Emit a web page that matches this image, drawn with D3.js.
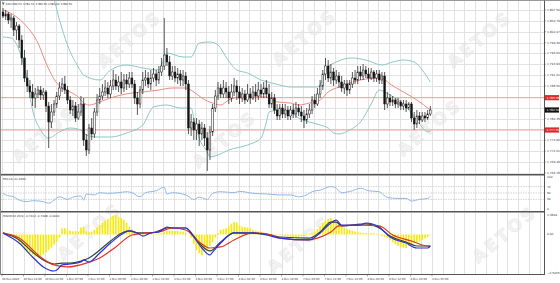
<!DOCTYPE html>
<html><head><meta charset="utf-8">
<script src="https://cdn.jsdelivr.net/npm/d3@7"></script>
<style>html,body{margin:0;padding:0;background:#fff;overflow:hidden}text{font-family:"DejaVu Sans",Arial,sans-serif}</style>
</head><body><svg id="c" width="560" height="283"></svg>
<script>
// ---------- DATA (XAUUSD H1) ----------
const openP=[1807,1806,1806.5,1805,1805.5,1802.5,1803.5,1800,1795.5,1790.5,
1788.5,1787,1785.5,1786.5,1787.5,1786.25,1787,1783.5,1779.5,1782,
1784,1786,1788,1789,1787.5,1785,1782.5,1783.5,1780.5,1782,
1784,1775,1772.5,1778,1776.5,1782,1785,1786,1787,1788,
1786.5,1788.5,1790,1788.5,1789.5,1788,1790,1789,1790.5,1789,
1785.5,1784,1787.5,1790,1790.5,1789,1790.5,1791.5,1790,1792,
1793.5,1796.25,1794.5,1791,1792,1790.5,1791.5,1790,1791,1789,
1778,1779.5,1777.5,1779,1776.5,1778,1775.5,1772.5,1777,1783,
1786,1788,1786.5,1788,1787,1785.5,1787,1788.5,1787,1785.5,
1786.5,1785,1786.5,1785.5,1787,1786,1787.5,1786.5,1788,1786.5,
1784,1785.5,1782.5,1781,1783,1781.5,1782.5,1781,1782.5,1781.5,
1783,1782,1781,1780,1781.5,1782.5,1785,1784,1786.5,1788.5,
1791.5,1793.5,1790.5,1792,1790,1791,1789.5,1788,1789,1787.5,
1789,1790.5,1790,1792,1791,1792.5,1791.5,1790.5,1792,1790.5,
1791.5,1790,1791,1784,1785.5,1784.5,1785,1784,1784.5,1783.5,
1784,1783,1784,1780.5,1779,1781,1780,1781,1780.5,1781.5];
const highP=[1808,1807.5,1807,1806.5,1806,1804.5,1804,1801.25,1797.5,1792.5,
1790,1789,1788,1788.5,1788.5,1788,1787.5,1784.5,1784,1785,
1787,1789.5,1790.5,1791,1788.5,1786,1785,1784.5,1784,1786,
1785.5,1776.5,1779,1780.5,1783,1786.5,1788,1789,1790,1789.5,
1790,1792.5,1791.5,1791,1792,1791.5,1791.5,1792,1792,1790,
1787,1788.5,1792,1792.5,1792,1792.5,1793,1792.5,1793.5,1795.5,
1805.5,1798,1796,1793.5,1793.5,1793,1792.5,1792.5,1792,1790,
1781.5,1780.5,1780.5,1780,1779.5,1779,1777,1778.5,1784,1787.5,
1789.5,1789,1790,1789.5,1788.5,1789,1790.5,1790,1788.5,1788,
1787.5,1789,1788,1788.5,1789,1789.5,1789,1789.5,1790,1789,
1787,1786.5,1784,1784,1784,1784,1783.5,1783.5,1784,1784.5,
1784,1783.5,1782.5,1783,1784,1786,1786.5,1788,1790,1792.5,
1795.5,1795,1794,1793,1792.5,1792,1791,1790,1790,1790,
1792,1792.5,1793.5,1793.5,1794,1793.5,1793,1793,1792.5,1792.5,
1792.5,1792,1792,1787,1786.5,1786,1785.5,1785.5,1785,1785,
1785,1784.5,1784.5,1782,1782.5,1782,1782,1782,1782.5,1783.5];
const lowP=[1805.5,1805,1804,1803,1801,1800,1798,1793.75,1789.5,1787,
1785.5,1783.5,1783,1785.5,1785,1785,1782,1773,1778,1781,
1783,1785,1787,1786.5,1784,1781.5,1781,1779.5,1780,1781,
1773.5,1771,1771.5,1775,1775.5,1781,1784,1785,1786,1785.5,
1785.5,1787.5,1787.5,1787,1786.5,1787,1787.5,1788,1788,1784,
1781.25,1783,1786.5,1788.5,1788,1787.5,1789.5,1788.5,1789,1791,
1792.5,1793.5,1790,1790,1789.5,1789,1788.5,1788.5,1787.5,1776.5,
1776,1775,1775,1773.5,1775,1773.5,1767.25,1770,1776,1782,
1785,1785.5,1785.5,1785.5,1784,1784.5,1786,1785,1784,1784.5,
1784,1784.5,1784,1785,1784.5,1785,1785.5,1785.5,1785.5,1783,
1783,1781.5,1780,1780,1780.5,1780.5,1780,1780,1780.5,1780.5,
1781,1779.5,1778,1779,1780.5,1781.5,1783,1783.5,1785.5,1787.5,
1790,1789.5,1789,1788.5,1789,1788,1787,1786.5,1786,1786.5,
1788,1789,1789,1790,1790,1790.5,1789.5,1790,1789.5,1789.5,
1789,1789,1782.5,1783,1783.5,1783.5,1783,1783,1782.5,1782.5,
1782,1782.5,1779.5,1777.5,1778,1779,1779.5,1779.5,1780,1781];
const closeP=[1806,1806.5,1805,1805.5,1802.5,1803.5,1800,1795.5,1790.5,1788.5,
1787,1785.5,1786.5,1787.5,1786.25,1787,1783.5,1779.5,1782,1784,
1786,1788,1789,1787.5,1785,1782.5,1783.5,1780.5,1782,1784,
1775,1772.5,1778,1776.5,1782,1785,1786,1787,1788,1786.5,
1788.5,1790,1788.5,1789.5,1788,1790,1789,1790.5,1789,1785.5,
1784,1787.5,1790,1790.5,1789,1790.5,1791.5,1790,1792,1793.5,
1796.25,1794.5,1791,1792,1790.5,1791.5,1790,1791,1789,1778,
1779.5,1777.5,1779,1776.5,1778,1775.5,1772.5,1777,1783,1786,
1788,1786.5,1788,1787,1785.5,1787,1788.5,1787,1785.5,1786.5,
1785,1786.5,1785.5,1787,1786,1787.5,1786.5,1788,1786.5,1784,
1785.5,1782.5,1781,1783,1781.5,1782.5,1781,1782.5,1781.5,1783,
1782,1781,1780,1781.5,1782.5,1785,1784,1786.5,1788.5,1791.5,
1793.5,1790.5,1792,1790,1791,1789.5,1788,1789,1787.5,1789,
1790.5,1790,1792,1791,1792.5,1791.5,1790.5,1792,1790.5,1791.5,
1790,1791,1784,1785.5,1784.5,1785,1784,1784.5,1783.5,1784,
1783,1784,1780.5,1779,1781,1780,1781,1780.5,1781.5,1782.5];

// Bollinger bands and moving average, read at [bar index, price]
const bandUpper=[[0,1825],[6,1820],[14,1813.75],[19,1810],[21,1805],[24,1798.75],[28,1793.25],[30,1791.25],[36,1790],[40,1792.5],[46,1793.75],[52,1793],[58,1792.5],[61,1796.75],[67,1795.75],[70,1795.75],[73,1799.25],[77,1799.5],[80,1798.75],[83,1795.75],[87,1792.5],[91,1791.75],[96,1790],[100,1789.25],[103,1788.75],[107,1788.25],[112,1788.25],[117,1788.25],[121,1793.25],[124,1794.5],[130,1795.5],[135,1795],[141,1793.75],[145,1794.5],[149,1795],[153,1794.5],[156,1792.5],[159,1789.5]];
const bandLower=[[0,1800.75],[3,1800.5],[6,1797.5],[9,1790],[11,1782.5],[14,1777.5],[17,1775.5],[21,1777],[25,1778],[29,1777.5],[31,1776.25],[35,1775.75],[40,1775.75],[46,1776.75],[52,1778.75],[56,1783.25],[61,1783.75],[66,1783],[70,1783],[71,1780.5],[73,1775.5],[76,1772],[77,1770.75],[80,1771.25],[84,1772.5],[91,1773.75],[96,1775.5],[98,1779.5],[99,1782],[103,1782.5],[107,1782],[110,1780.5],[114,1779.5],[118,1778.75],[121,1778],[123,1776.75],[125,1776.5],[129,1777.5],[133,1779.5],[137,1784],[140,1787.5],[144,1786.25],[148,1784.5],[151,1782.5],[155,1779],[158,1777],[159,1777.25]];
const maLine=[[0,1807.5],[4,1806.25],[9,1803.25],[13,1799.25],[16,1794.25],[20,1789.25],[22,1788],[25,1787],[28,1785.75],[30,1784.25],[32,1783.75],[36,1784.5],[40,1785.5],[44,1786.25],[48,1786.75],[52,1787],[58,1787.5],[63,1788],[68,1788],[71,1787],[74,1785.5],[78,1784.25],[81,1783.75],[84,1785],[89,1785.75],[95,1785.75],[98,1785.75],[102,1784.5],[107,1784.25],[110,1783.75],[114,1784.25],[118,1785],[121,1787],[125,1788.25],[130,1789.5],[135,1790.25],[141,1790.5],[144,1789],[149,1787],[154,1785],[159,1782.5]];
const levelLines=[1785.58,1777.50];
const lastPrice=1782.50;
const priceTicks=[1807.50,1804.79,1802.07,1799.36,1796.64,1793.93,1791.21,1788.50,1785.78,1783.07,1780.35,1777.64,1774.92,1772.21,1769.49,1766.78];

// RSI(14) read at [bar index, value]
const rsi=[[0,49],[1,44],[4,38],[6,28],[9,23],[11,26],[15,23],[17,18],[21,38],[24,30],[26,37],[29,41],[30,28],[31,47],[34,44],[36,51],[39,49],[43,51],[46,54],[48,51],[51,38],[53,51],[57,57],[60,68],[61,47],[63,51],[68,44],[71,30],[73,37],[76,30],[78,49],[81,54],[86,51],[88,55],[93,49],[98,47],[103,44],[107,44],[110,38],[113,44],[115,54],[118,59],[122,70],[124,65],[126,51],[130,57],[133,65],[136,57],[140,54],[143,36],[147,33],[150,33],[152,25],[155,30],[158,33],[159,40]];
const rsiLevels=[70,50,30];

// MACD(12,26,9): histogram per bar, lines at [bar index, value]
const macdHist=[0,-0.03,-0.06,-0.1,-0.18,-0.3,-0.5,-0.75,-0.95,-1.1,
-1.2,-1.3,-1.42,-1.45,-1.4,-1.3,-1.15,-1.0,-0.85,-0.65,
-0.45,-0.2,0.4,0.42,0.3,0.25,0.2,0.22,0.18,0.45,
0.5,0.2,0.15,0.18,0.3,0.45,0.6,0.75,0.9,1.0,
1.1,1.2,1.26,1.15,1.05,0.95,0.75,0.5,0.35,0.2,
0.12,0.05,-0.05,0.03,0.04,-0.03,0.02,0.05,0.06,0.1,
0.15,0.22,0.25,0.24,0.23,0.22,0.2,0.18,0.1,0.02,
-0.2,-0.6,-1.0,-1.2,-1.35,-1.1,-0.9,-0.75,-0.5,-0.2,
0.1,0.3,0.35,0.4,0.55,0.7,0.8,0.78,0.6,0.5,
0.48,0.45,0.4,0.3,0.22,0.2,0.18,0.12,0.08,0.05,
0.03,0.01,-0.02,-0.04,-0.06,-0.1,-0.12,-0.14,-0.16,-0.15,
-0.14,-0.12,-0.1,0.05,0.08,0.1,0.2,0.35,0.55,0.75,
0.9,1.0,1.06,0.95,0.8,0.65,0.55,0.45,0.35,0.3,
0.25,0.2,0.15,0.12,0.1,0.1,0.08,0.1,0.08,0.05,
-0.05,-0.1,-0.15,-0.2,-0.35,-0.5,-0.62,-0.72,-0.8,-0.85,
-0.87,-0.75,-0.62,-0.55,-0.5,-0.45,-0.35,-0.25,-0.15,-0.05];
const macdMain=[[0,0.08],[6,-0.55],[11,-1.45],[15,-2.09],[19,-2.35],[20,-2.29],[22,-1.96],[25,-1.9],[29,-1.77],[30,-1.64],[32,-1.77],[36,-1.19],[40,-0.55],[45,0.1],[47,0.23],[50,0.1],[52,-0.1],[55,0.1],[58,0.16],[61,0.48],[63,0.42],[68,0.42],[71,-0.16],[74,-0.87],[77,-1.32],[78,-1.13],[81,-0.55],[86,0.1],[93,0.1],[98,-0.03],[103,-0.23],[114,-0.35],[118,0.1],[122,0.74],[124,0.93],[126,0.61],[133,0.61],[135,0.74],[140,0.48],[144,-0.16],[150,-0.55],[154,-0.87],[158,-0.87],[159,-0.74]];
const macdFast=[[0,0.1],[6,-0.35],[11,-1.13],[15,-1.64],[19,-1.9],[22,-1.84],[25,-1.84],[29,-1.71],[32,-1.51],[36,-1.0],[40,-0.42],[45,0.16],[47,0.23],[50,0.1],[55,0.1],[58,0.23],[61,0.42],[68,0.42],[71,-0.1],[74,-0.74],[77,-1.06],[81,-0.48],[86,0.1],[98,0.03],[103,-0.16],[114,-0.23],[118,0.16],[122,0.8],[124,0.8],[126,0.55],[135,0.68],[140,0.42],[144,-0.1],[150,-0.48],[154,-0.74],[159,-0.74]];
const macdSignal=[[0,0.1],[6,-0.23],[14,-1.45],[19,-1.96],[24,-2.09],[31,-1.84],[36,-1.51],[42,-0.8],[48,-0.03],[54,0.1],[58,0.16],[63,0.42],[68,0.29],[73,-0.48],[77,-0.87],[81,-0.8],[86,-0.35],[93,0.1],[100,-0.03],[103,-0.23],[113,-0.35],[117,-0.23],[122,0.16],[125,0.55],[133,0.61],[140,0.55],[145,-0.03],[152,-0.42],[158,-0.74],[159,-0.74]];
const macdTicks=[1.3844,0,-2.5435];

const timeLabels=["30 Nov 2020","30 Nov 14:00","30 Nov 22:00","1 Dec 07:00","1 Dec 15:00","2 Dec 00:00","2 Dec 08:00","2 Dec 16:00","3 Dec 01:00","3 Dec 09:00","3 Dec 17:00","4 Dec 02:00","4 Dec 10:00","4 Dec 18:00","7 Dec 03:00","7 Dec 11:00","7 Dec 19:00","8 Dec 04:00","8 Dec 12:00","8 Dec 20:00","9 Dec 05:00"];

// ---------- DRAW ----------
const svg=d3.select('#c');
const RX=544.5;
const x=d3.scaleLinear().domain([0,200]).range([3,540.5]);
const yMain=d3.scaleLinear().domain([1766.5,1809.5]).range([174,2]);
const yRsi=d3.scaleLinear().domain([0,100]).range([209,177]);
const yMacd=d3.scaleLinear().domain([-2.5435,1.3844]).range([274,213]);
const panes={main:[1,174],rsi:[175.5,211],macd:[212.5,274]};
const defs=svg.append('defs');
Object.entries(panes).forEach(([k,[t,b]])=>{
  defs.append('clipPath').attr('id','clip-'+k).append('rect').attr('x',0.5).attr('y',t).attr('width',RX-0.5).attr('height',b-t);
});
svg.append('rect').attr('width',560).attr('height',283).attr('fill','#fff');

// watermark
const wm=[[130,40],[305,38],[480,40],[45,135],[225,140],[430,128],[90,232],[300,245],[505,235]];
svg.append('g').selectAll('text').data(wm).join('text')
  .attr('transform',d=>`translate(${d[0]},${d[1]}) rotate(-40)`)
  .attr('text-anchor','middle').attr('dominant-baseline','middle')
  .attr('font-size',17).attr('font-weight','bold').attr('letter-spacing',3)
  .attr('fill','#f3f3f3').attr('stroke','#e8e8e8').attr('stroke-width',0.5).text('AETOS');

// grids
const grid=svg.append('g').attr('stroke','#e2e2e2').attr('stroke-width',1);
const vx=d3.range(0,51).map(k=>Math.round(x(4*k)-1)+0.5).filter(v=>v<RX-1);
Object.values(panes).forEach(([t,b])=>{
  grid.selectAll(null).data(vx).join('line').attr('x1',d=>d).attr('x2',d=>d).attr('y1',t).attr('y2',b);
});
grid.selectAll(null).data(priceTicks).join('line')
  .attr('x1',0.5).attr('x2',RX).attr('y1',d=>Math.round(yMain(d))+0.5).attr('y2',d=>Math.round(yMain(d))+0.5);

// main pane
const gm=svg.append('g').attr('clip-path','url(#clip-main)');
gm.selectAll('line.lvl').data(levelLines).join('line').attr('class','lvl')
  .attr('x1',0.5).attr('x2',RX).attr('y1',d=>yMain(d)).attr('y2',d=>yMain(d))
  .attr('stroke','#f2a0a0').attr('stroke-width',1);
const lineMain=d3.line().x(d=>x(d[0])).y(d=>yMain(d[1])).curve(d3.curveMonotoneX);
gm.append('path').datum(bandUpper).attr('d',lineMain).attr('fill','none').attr('stroke','#8cc7c4').attr('stroke-width',1);
gm.append('path').datum(bandLower).attr('d',lineMain).attr('fill','none').attr('stroke','#8cc7c4').attr('stroke-width',1);
gm.append('path').datum(maLine).attr('d',lineMain).attr('fill','none').attr('stroke','#ec8a84').attr('stroke-width',1);
const idx=d3.range(openP.length);
gm.selectAll('line.wick').data(idx).join('line').attr('class','wick')
  .attr('x1',i=>x(i)).attr('x2',i=>x(i)).attr('y1',i=>yMain(highP[i])).attr('y2',i=>yMain(lowP[i]))
  .attr('stroke','#111').attr('stroke-width',0.7);
gm.selectAll('rect.body').data(idx).join('rect').attr('class','body')
  .attr('x',i=>x(i)-0.85).attr('width',1.7)
  .attr('y',i=>yMain(Math.max(openP[i],closeP[i])))
  .attr('height',i=>Math.max(0.6,Math.abs(yMain(openP[i])-yMain(closeP[i]))))
  .attr('fill',i=>closeP[i]>=openP[i]?'#fff':'#111')
  .attr('stroke','#111').attr('stroke-width',0.5);

// RSI pane
const gr=svg.append('g').attr('clip-path','url(#clip-rsi)');
gr.selectAll('line').data(rsiLevels).join('line')
  .attr('x1',0.5).attr('x2',RX).attr('y1',d=>yRsi(d)).attr('y2',d=>yRsi(d))
  .attr('stroke','#c8c8c8').attr('stroke-width',0.8).attr('stroke-dasharray','1.5,1');
gr.append('path').datum(rsi).attr('d',d3.line().x(d=>x(d[0])).y(d=>yRsi(d[1])).curve(d3.curveMonotoneX))
  .attr('fill','none').attr('stroke','#8fb8e6').attr('stroke-width',1);

// MACD pane
const gc=svg.append('g').attr('clip-path','url(#clip-macd)');
gc.selectAll('rect').data(idx).join('rect')
  .attr('x',i=>x(i)-0.85).attr('width',1.7)
  .attr('y',i=>yMacd(Math.max(0,macdHist[i])))
  .attr('height',i=>Math.abs(yMacd(macdHist[i])-yMacd(0)))
  .attr('fill','#f8ea10');
const lineMacd=d3.line().x(d=>x(d[0])).y(d=>yMacd(d[1])).curve(d3.curveMonotoneX);
gc.append('path').datum(macdFast).attr('d',lineMacd).attr('fill','none').attr('stroke','#2f4a32').attr('stroke-width',1.2);
gc.append('path').datum(macdSignal).attr('d',lineMacd).attr('fill','none').attr('stroke','#e5341f').attr('stroke-width',1.2);
gc.append('path').datum(macdMain).attr('d',lineMacd).attr('fill','none').attr('stroke','#2b32d8').attr('stroke-width',1.2);

// frames
const fr=svg.append('g').attr('fill','none');
fr.append('line').attr('x1',0).attr('x2',560).attr('y1',0.5).attr('y2',0.5).attr('stroke','#999');
[174.7,211.7].forEach(v=>fr.append('line').attr('x1',0).attr('x2',RX).attr('y1',v).attr('y2',v).attr('stroke','#555').attr('stroke-width',1.4));
fr.append('line').attr('x1',0).attr('x2',RX).attr('y1',274.5).attr('y2',274.5).attr('stroke','#555');
fr.append('line').attr('x1',RX).attr('x2',RX).attr('y1',0.5).attr('y2',275).attr('stroke','#555');
fr.append('line').attr('x1',0.5).attr('x2',0.5).attr('y1',0.5).attr('y2',275).attr('stroke','#888');

// right axis labels
const fmt=d3.format(',.2f');
const ax=svg.append('g').attr('font-size',2.9).attr('fill','#333');
const boxes=[...levelLines,lastPrice].map(v=>yMain(v));
ax.selectAll('text.p').data(priceTicks.filter(v=>boxes.every(b=>Math.abs(yMain(v)-b)>4))).join('text').attr('class','p')
  .attr('x',547).attr('y',d=>yMain(d)+1).text(d=>fmt(d));
ax.selectAll('line.pt').data(priceTicks).join('line').attr('class','pt')
  .attr('x1',RX).attr('x2',RX+1.5).attr('y1',d=>yMain(d)).attr('y2',d=>yMain(d)).attr('stroke','#555').attr('stroke-width',0.5);
const bx=[...levelLines.map(v=>[v,'#e3262a']),[lastPrice,'#111']];
bx.forEach(([v,c])=>{
  ax.append('rect').attr('x',545).attr('y',yMain(v)-2.6).attr('width',14).attr('height',5.2).attr('fill',c);
  ax.append('text').attr('x',546.5).attr('y',yMain(v)+1).attr('fill','#fff').text(fmt(v));
});
ax.selectAll('text.r').data([100,...rsiLevels,0]).join('text').attr('class','r')
  .attr('x',547).attr('y',d=>yRsi(d)+1).text(d=>d);
ax.selectAll('text.m').data(macdTicks).join('text').attr('class','m')
  .attr('x',547).attr('y',(d,i)=>yMacd(d)+(i===0?2.5:i===2?-0.5:1)).text(d=>d===0?'0.00':d3.format('.4f')(d));

// time axis
const tg=svg.append('g').attr('font-size',2.7).attr('fill','#333');
tg.selectAll('text').data(timeLabels).join('text').attr('x',(d,k)=>x(8*k)-1).attr('y',280).text(d=>d);
tg.selectAll('line').data(timeLabels).join('line').attr('x1',(d,k)=>x(8*k)-1).attr('x2',(d,k)=>x(8*k)-1)
  .attr('y1',274.5).attr('y2',276.5).attr('stroke','#555').attr('stroke-width',0.5);

// pane headers
const hd=svg.append('g').attr('font-size',2.8).attr('fill','#333');
hd.append('path').attr('d','M2,2.6 L4.6,2.6 L3.3,5.2 Z').attr('fill','#3a8a3a');
hd.append('text').attr('x',5.5).attr('y',5.2).text('XAUUSD,H1  1781.51 1783.50 1781.00 1782.50');
hd.append('text').attr('x',3).attr('y',180).text('RSI(14) 41.4662');
hd.append('text').attr('x',3).attr('y',216.5).text('MACD(12,26,9) -0.7412 -0.7408 -0.0004');
</script></body></html>
